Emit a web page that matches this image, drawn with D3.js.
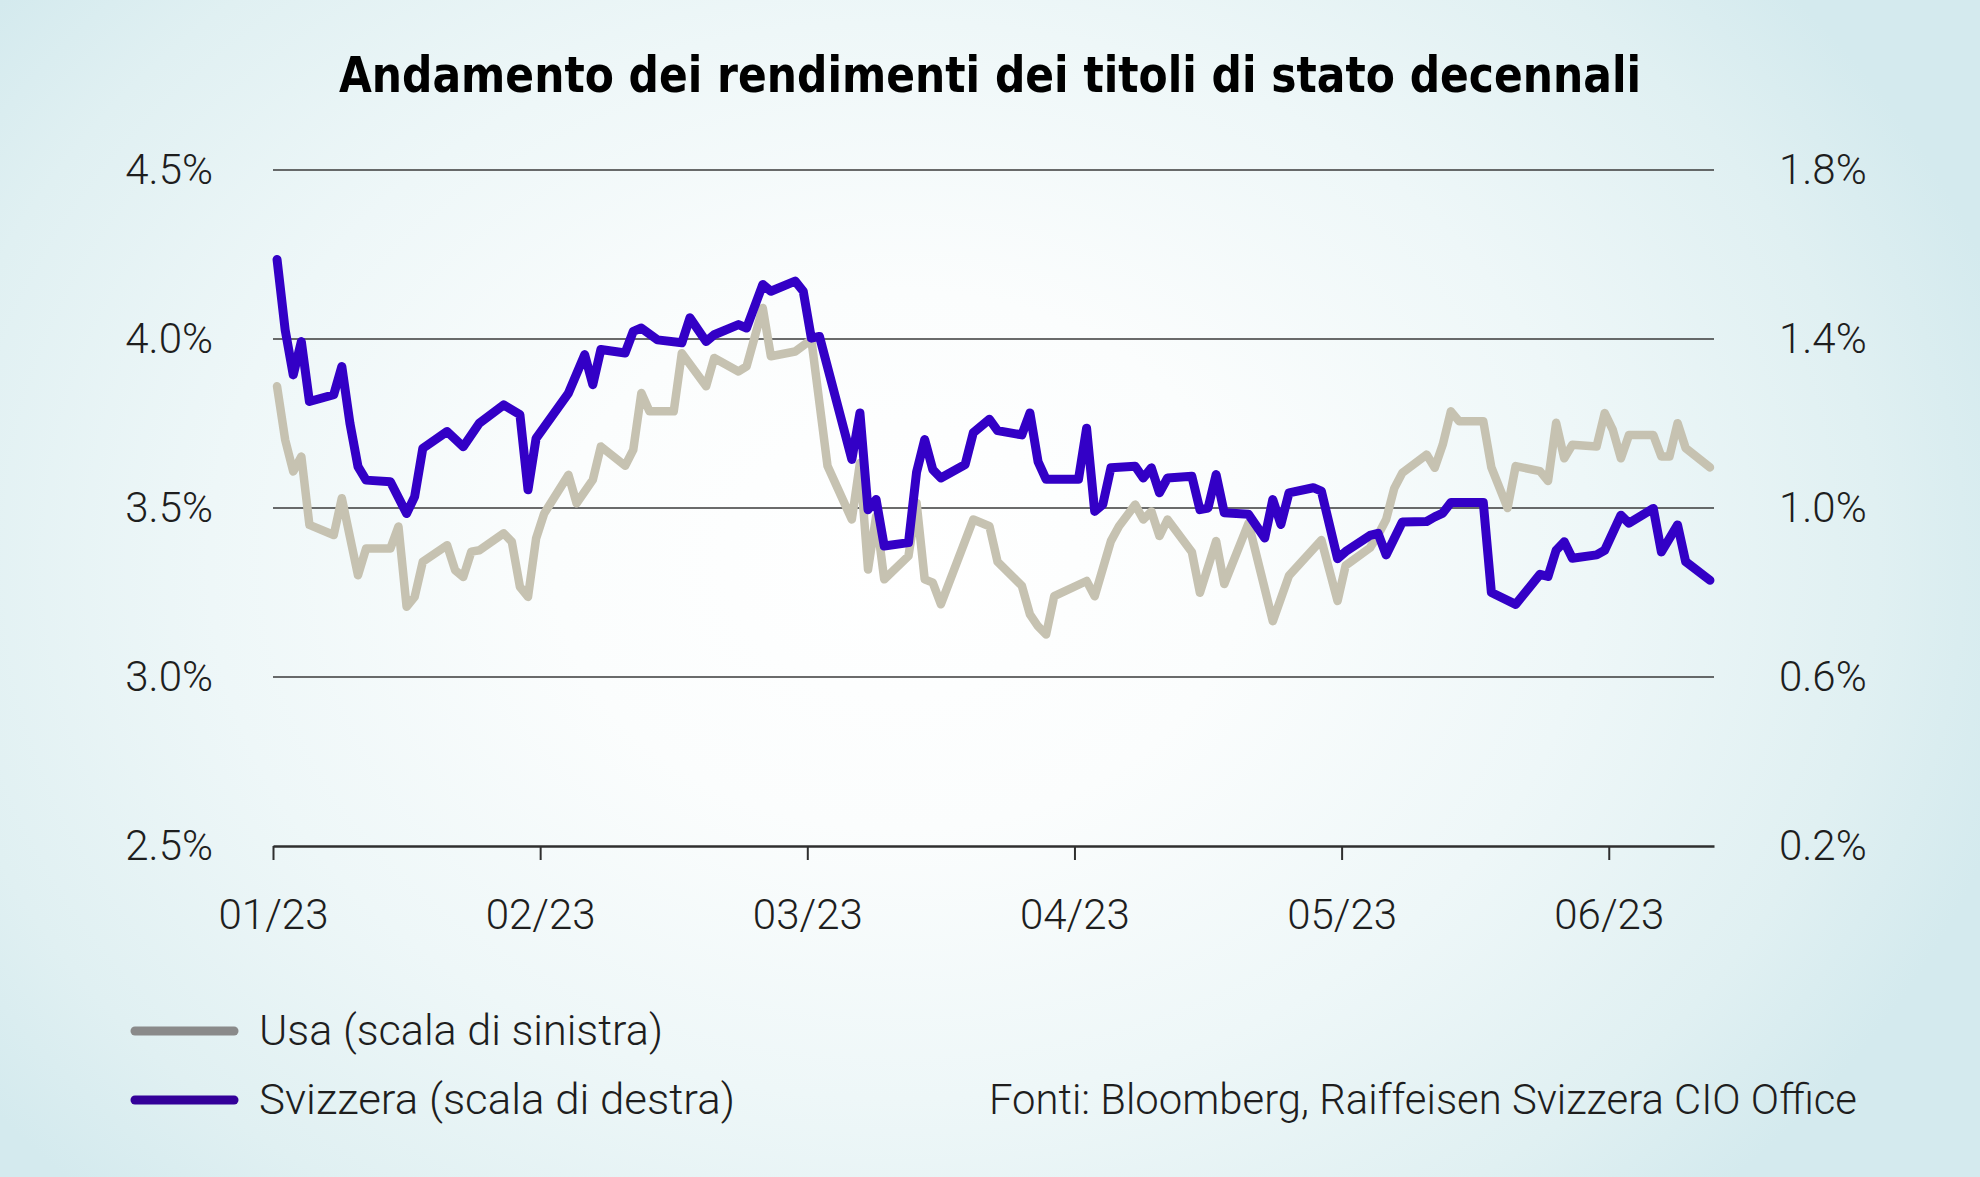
<!DOCTYPE html>
<html>
<head>
<meta charset="utf-8">
<script src="https://cdn.jsdelivr.net/npm/d3@7"></script>
<style>
  html, body { margin: 0; padding: 0; width: 1980px; height: 1177px; overflow: hidden; }
  svg { display: block; }
</style>
</head>
<body>
<svg id="chart" width="1980" height="1177"></svg>
<script>
// ---------------- data ----------------
const chartTitle = "Andamento dei rendimenti dei titoli di stato decennali";
const nDays = 178;                       // daily categories, 01.01.2023 onwards
const tickDays = [0, 33, 66, 99, 132, 165];
const tickLabels = ["01/23", "02/23", "03/23", "04/23", "05/23", "06/23"];
const leftTicks = [2.5, 3.0, 3.5, 4.0, 4.5];
const rightTicks = [0.2, 0.6, 1.0, 1.4, 1.8];
const seriesNames = ["Usa (scala di sinistra)", "Svizzera (scala di destra)"];
const sourceText = "Fonti: Bloomberg, Raiffeisen Svizzera CIO Office";

// USA 10y yield (left scale) – day index / value
const usDays = [0,1,2,3,4,7,8,10,11,14,15,16,17,18,21,22,23,24,25,28,29,30,31,32,33,36,37,39,40,43,44,45,46,49,50,53,54,57,58,60,61,64,66,68,71,72,73,74,75,78,79,80,81,82,86,88,89,92,93,94,95,96,100,101,103,104,106,107,108,109,110,113,114,116,117,120,123,125,129,131,132,135,136,137,138,139,142,143,144,145,146,149,150,152,153,156,157,158,159,160,163,164,165,166,167,170,171,172,173,174,177];
const usVals = [3.860,3.702,3.608,3.652,3.450,3.420,3.529,3.301,3.380,3.380,3.445,3.208,3.237,3.341,3.390,3.316,3.296,3.371,3.375,3.425,3.400,3.267,3.237,3.410,3.484,3.598,3.514,3.583,3.682,3.625,3.672,3.840,3.786,3.786,3.958,3.860,3.944,3.904,3.919,4.092,3.949,3.963,3.998,3.624,3.466,3.633,3.318,3.476,3.289,3.358,3.515,3.289,3.279,3.215,3.466,3.446,3.341,3.270,3.185,3.150,3.126,3.239,3.284,3.239,3.402,3.446,3.510,3.466,3.490,3.417,3.466,3.370,3.249,3.402,3.275,3.455,3.165,3.300,3.405,3.225,3.330,3.382,3.420,3.466,3.558,3.604,3.658,3.619,3.688,3.786,3.757,3.757,3.620,3.500,3.624,3.609,3.580,3.752,3.647,3.687,3.682,3.781,3.731,3.647,3.716,3.716,3.652,3.652,3.751,3.677,3.620];

// Switzerland 10y yield (right scale) – day index / value
const chDays = [0,1,2,3,4,7,8,9,10,11,14,16,17,18,21,23,25,28,30,31,32,36,38,39,40,43,44,45,47,50,51,53,54,57,58,60,61,64,65,66,67,71,72,73,74,75,78,79,80,81,82,85,86,88,89,92,93,94,95,99,100,101,102,103,106,107,108,109,110,113,114,115,116,117,120,122,123,124,125,128,129,131,132,135,136,137,139,142,143,144,145,149,150,153,156,157,158,159,160,163,164,166,167,170,171,173,174,177];
const chVals = [1.588,1.422,1.315,1.394,1.252,1.268,1.335,1.201,1.098,1.066,1.062,0.987,1.027,1.141,1.181,1.145,1.201,1.244,1.221,1.043,1.165,1.272,1.363,1.292,1.375,1.367,1.418,1.426,1.398,1.391,1.450,1.394,1.410,1.434,1.426,1.529,1.513,1.537,1.513,1.402,1.406,1.115,1.225,0.996,1.020,0.910,0.918,1.085,1.162,1.091,1.071,1.103,1.178,1.210,1.183,1.173,1.225,1.110,1.068,1.068,1.189,0.992,1.008,1.095,1.099,1.071,1.095,1.036,1.071,1.075,0.996,1.000,1.079,0.989,0.985,0.929,1.020,0.961,1.036,1.048,1.040,0.880,0.897,0.935,0.940,0.889,0.967,0.968,0.979,0.988,1.013,1.013,0.800,0.772,0.843,0.838,0.900,0.920,0.881,0.889,0.900,0.983,0.964,0.999,0.896,0.960,0.873,0.829];

// ---------------- drawing ----------------
const svg = d3.select("#chart");
const W = 1980, H = 1177;
const plot = { left: 273, right: 1714, top: 170, bottom: 846 };

// background gradient
const defs = svg.append("defs");
const grad = defs.append("radialGradient")
  .attr("id", "bg").attr("gradientUnits", "userSpaceOnUse")
  .attr("cx", 900).attr("cy", 560).attr("r", 1150)
  .attr("gradientTransform", "translate(900,560) scale(1,0.78) translate(-900,-560)");
[[0, "#ffffff"], [0.3, "#fbfdfd"], [0.6, "#eef7f8"], [0.85, "#e0f0f2"], [1, "#d4eaee"]]
  .forEach(([o, c]) => grad.append("stop").attr("offset", o).attr("stop-color", c));
svg.append("rect").attr("width", W).attr("height", H).attr("fill", "url(#bg)");

const labelFont = "Roboto, 'Open Sans', sans-serif";
const textColor = "#1e1e1e";

// title
svg.append("text")
  .attr("x", 990).attr("y", 92)
  .attr("text-anchor", "middle")
  .attr("font-family", "'Liberation Sans Narrow', 'DejaVu Sans Condensed', 'Roboto', sans-serif")
  .attr("font-stretch", "condensed")
  .attr("font-weight", 700)
  .attr("font-size", 50)
  .attr("fill", "#000")
  .attr("textLength", 1302)
  .attr("lengthAdjust", "spacingAndGlyphs")
  .text(chartTitle);

// scales
const x = d3.scaleLinear().domain([0, nDays]).range([plot.left, plot.right]);
const yL = d3.scaleLinear().domain([2.5, 4.5]).range([plot.bottom, plot.top]);
const yR = d3.scaleLinear().domain([0.2, 1.8]).range([plot.bottom, plot.top]);

// gridlines
svg.append("g").selectAll("line")
  .data(leftTicks.filter(d => d > 2.5))
  .join("line")
  .attr("x1", plot.left).attr("x2", plot.right)
  .attr("y1", d => yL(d)).attr("y2", d => yL(d))
  .attr("stroke", "#3a3a3a").attr("stroke-width", 1.6);

// left axis
const gL = svg.append("g").attr("transform", `translate(${plot.left},0)`)
  .call(d3.axisLeft(yL).tickValues(leftTicks).tickFormat(d => d.toFixed(1) + "%").tickSize(0).tickPadding(60));
gL.select(".domain").remove();
gL.selectAll("text").attr("font-family", labelFont).attr("font-weight", 300)
  .attr("font-size", 42).attr("fill", textColor).attr("dy", "0.31em");

// right axis
const gR = svg.append("g").attr("transform", `translate(${plot.right},0)`)
  .call(d3.axisRight(yR).tickValues(rightTicks).tickFormat(d => d.toFixed(1) + "%").tickSize(0).tickPadding(65));
gR.select(".domain").remove();
gR.selectAll("text").attr("font-family", labelFont).attr("font-weight", 300)
  .attr("font-size", 42).attr("fill", textColor).attr("dy", "0.31em");

// bottom axis
const gB = svg.append("g").attr("transform", `translate(0,${plot.bottom})`)
  .call(d3.axisBottom(x).tickValues(tickDays).tickFormat((d, i) => tickLabels[i])
    .tickSize(14).tickSizeOuter(0).tickPadding(39));
gB.select(".domain").attr("stroke", "#2f2f2f").attr("stroke-width", 2.4);
gB.selectAll(".tick line").attr("stroke", "#2f2f2f").attr("stroke-width", 2);
gB.selectAll("text").attr("font-family", labelFont).attr("font-weight", 300)
  .attr("font-size", 42).attr("fill", textColor);

// lines
const usData = usDays.map((d, i) => ({ day: d, v: usVals[i] }));
const chData = chDays.map((d, i) => ({ day: d, v: chVals[i] }));

svg.append("path").datum(usData)
  .attr("fill", "none").attr("stroke", "#c6c2b1").attr("stroke-width", 8.5)
  .attr("stroke-linejoin", "round").attr("stroke-linecap", "round")
  .attr("d", d3.line().x(d => x(d.day + 0.5)).y(d => yL(d.v)));

svg.append("path").datum(chData)
  .attr("fill", "none").attr("stroke", "#3300c6").attr("stroke-width", 9)
  .attr("stroke-linejoin", "round").attr("stroke-linecap", "round")
  .attr("d", d3.line().x(d => x(d.day + 0.5)).y(d => yR(d.v)));

// legend
const legendColors = ["#8a8a8a", "#330099"];
const legendY = [1031, 1100];
const legendWidths = [404, 476];
const lg = svg.append("g");
seriesNames.forEach((name, i) => {
  lg.append("line")
    .attr("x1", 135).attr("x2", 234).attr("y1", legendY[i]).attr("y2", legendY[i])
    .attr("stroke", legendColors[i]).attr("stroke-width", 9).attr("stroke-linecap", "round");
  lg.append("text")
    .attr("x", 259).attr("y", legendY[i] + 14)
    .attr("font-family", labelFont).attr("font-weight", 300).attr("font-size", 42)
    .attr("fill", textColor)
    .attr("textLength", legendWidths[i]).attr("lengthAdjust", "spacingAndGlyphs")
    .text(name);
});

// source
svg.append("text")
  .attr("x", 1857).attr("y", 1114)
  .attr("text-anchor", "end")
  .attr("font-family", labelFont).attr("font-weight", 300).attr("font-size", 42)
  .attr("fill", textColor)
  .attr("textLength", 868).attr("lengthAdjust", "spacingAndGlyphs")
  .text(sourceText);
</script>
</body>
</html>
